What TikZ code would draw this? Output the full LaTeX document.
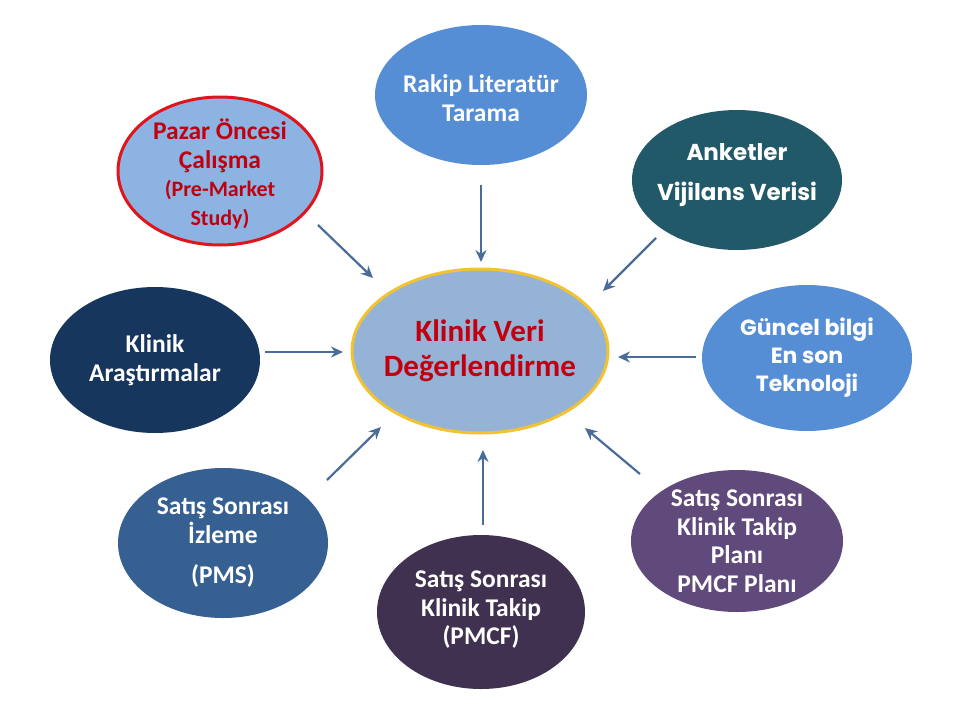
\documentclass[tikz,border=0pt]{standalone}
\usepackage{fontspec}
\setmainfont{Carlito}
\newfontfamily\pop{Poppins}
\usetikzlibrary{shapes.geometric,calc,arrows.meta}
\definecolor{cRakip}{HTML}{558ED5}
\definecolor{cAnket}{HTML}{215968}
\definecolor{cGuncel}{HTML}{558ED5}
\definecolor{cPlan}{HTML}{604A7B}
\definecolor{cPmcf}{HTML}{403151}
\definecolor{cPms}{HTML}{376092}
\definecolor{cKlinik}{HTML}{17365D}
\definecolor{cPazar}{HTML}{8DB3E2}
\definecolor{cPazarB}{HTML}{E0141C}
\definecolor{cCenter}{HTML}{95B3D7}
\definecolor{cCenterB}{HTML}{F2C230}
\definecolor{cRedText}{HTML}{C0000F}
\definecolor{cArrow}{HTML}{4A6C9B}
\tikzset{
  ell/.style={ellipse, inner sep=0pt, draw=none},
  txt/.style={align=center, text=white, font=\fontsize{25.5}{28.5}\selectfont\bfseries, inner sep=0pt},
  poptxt/.style={txt, font=\pop\fontsize{22}{28}\selectfont\bfseries},
  arr/.style={draw=cArrow, line width=2.2pt, -{Stealth[length=12pt,width=11pt]}},
}
\begin{document}
\begin{tikzpicture}[x=1pt,y=-1pt]
\useasboundingbox[fill=white] (0,0) rectangle (960,720);
% ellipses
\node[ell, fill=cCenter, draw=cCenterB, line width=3pt, minimum width=256pt, minimum height=164pt] (center) at (480,351) {};
\node[ell, fill=cRakip, minimum width=212pt, minimum height=140pt] (rakip) at (481,95) {};
\node[ell, fill=cAnket, minimum width=210pt, minimum height=140pt] (anket) at (737,180) {};
\node[ell, fill=cGuncel, minimum width=210pt, minimum height=146pt] (guncel) at (807,358) {};
\node[ell, fill=cPlan, minimum width=212pt, minimum height=142pt] (plan) at (737,541) {};
\node[ell, fill=cPmcf, minimum width=208pt, minimum height=154pt] (pmcf) at (481,612) {};
\node[ell, fill=cPms, minimum width=210pt, minimum height=150pt] (pms) at (223,543) {};
\node[ell, fill=cKlinik, minimum width=210pt, minimum height=146pt] (klinik) at (155,360) {};
\node[ell, fill=cPazar, draw=cPazarB, line width=3pt, minimum width=204pt, minimum height=148pt] (pazar) at (220,171) {};
% texts
\node[txt, text=cRedText, font=\fontsize{31}{35}\selectfont\bfseries] (centerT) at ($(center)+(0,0)$) {Klinik Veri\\Değerlendirme};
\node[txt] (rakipT) at ($(rakip)+(0,3)$) {Rakip Literatür\\Tarama};
\node[poptxt, font=\pop\fontsize{23}{28}\selectfont\bfseries] (anketT) at ($(anket)+(0,-5)$) {Anketler\\[12pt]Vijilans Verisi};
\node[poptxt] (guncelT) at ($(guncel)+(0,0)$) {Güncel bilgi\\En son\\Teknoloji};
\node[txt] (planT) at ($(plan)+(0,0)$) {Satış Sonrası\\Klinik Takip\\Planı\\PMCF Planı};
\node[txt] (pmcfT) at ($(pmcf)+(0,-2)$) {Satış Sonrası\\Klinik Takip\\(PMCF)};
\node[txt] (pmsT) at ($(pms)+(0,0)$) {Satış Sonrası\\İzleme\\[12pt](PMS)};
\node[txt] (klinikT) at ($(klinik)+(0,0)$) {Klinik\\Araştırmalar};
\node[txt, text=cRedText] (pazarT) at ($(pazar)+(0,3)$) {Pazar Öncesi\\Çalışma\\{\fontsize{22}{26}\selectfont (Pre-Market}\\{\fontsize{22}{26}\selectfont Study)}};
% arrows
\draw[arr] ($(pazar)+(98,54)$) -- ($(center)+(-107,-73)$);
\draw[arr] ($(rakip)+(0,90)$) -- ($(center)+(1,-89)$);
\draw[arr] ($(anket)+(-81,58)$) -- ($(center)+(123,-60)$);
\draw[arr] ($(guncel)+(-111,-1)$) -- ($(center)+(138,6)$);
\draw[arr] ($(plan)+(-97,-67)$) -- ($(center)+(105,77)$);
\draw[arr] ($(pmcf)+(2,-87)$) -- ($(center)+(3,99)$);
\draw[arr] ($(pms)+(104,-63)$) -- ($(center)+(-99,76)$);
\draw[arr] ($(klinik)+(110,-8)$) -- ($(center)+(-137,1)$);
\end{tikzpicture}
\end{document}
